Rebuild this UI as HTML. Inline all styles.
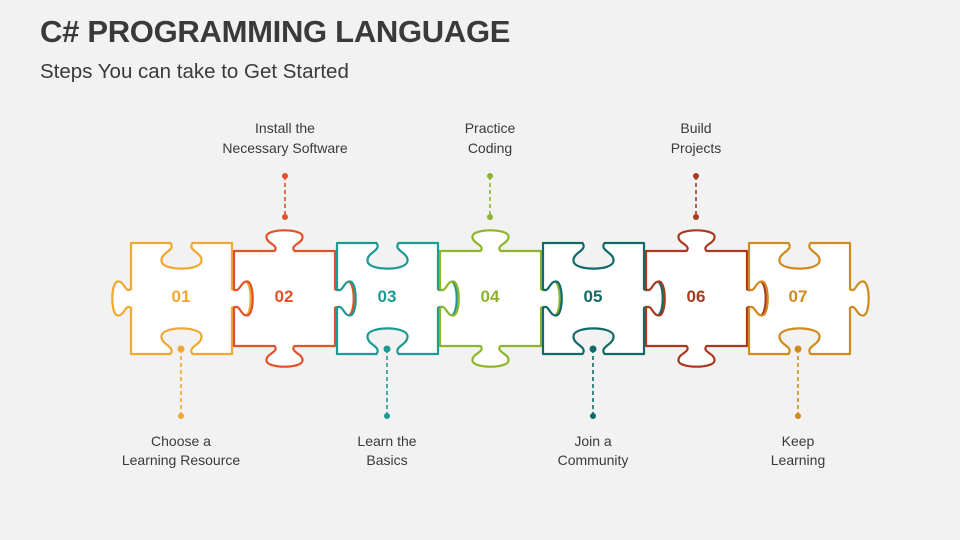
<!DOCTYPE html>
<html><head><meta charset="utf-8"><style>
body{margin:0;width:960px;height:540px;background:#f2f2f2;overflow:hidden;font-family:"Liberation Sans",sans-serif;position:relative}
.t{position:absolute;left:40px;top:14px;font-size:31px;font-weight:bold;color:#3a3a3a;letter-spacing:-0.3px}
.s{position:absolute;left:40px;top:60px;font-size:20.5px;color:#3a3a3a}
svg{position:absolute;left:0;top:0}
</style></head><body>
<div class="t">C# PROGRAMMING LANGUAGE</div>
<div class="s">Steps You can take to Get Started</div>
<svg width="960" height="540" id="sv">
<g id="pieces"></g>
<g font-family="Liberation Sans, sans-serif" font-size="14" fill="#3a3a3a" text-anchor="middle">
<text x="285" y="133">Install the</text><text x="285" y="153">Necessary Software</text>
<text x="490" y="133">Practice</text><text x="490" y="153">Coding</text>
<text x="696" y="133">Build</text><text x="696" y="153">Projects</text>
<text x="181" y="446">Choose a</text><text x="181" y="465">Learning Resource</text>
<text x="387" y="446">Learn the</text><text x="387" y="465">Basics</text>
<text x="593" y="446">Join a</text><text x="593" y="465">Community</text>
<text x="798" y="446">Keep</text><text x="798" y="465">Learning</text>
</g>
<g id="conn"></g>
<g font-family="Liberation Sans, sans-serif" font-size="17" font-weight="bold" text-anchor="middle">
<text x="181" y="302" fill="#F0A830">01</text>
<text x="284" y="302" fill="#E0522A">02</text>
<text x="387" y="302" fill="#1E9A94">03</text>
<text x="490" y="302" fill="#8DB52A">04</text>
<text x="593" y="302" fill="#106B68">05</text>
<text x="696" y="302" fill="#A8391F">06</text>
<text x="798" y="302" fill="#D08A1E">07</text>
</g>
</svg>
<script>
function edge(P,t,n,L,k,h,w){
  var s="";function pt(u,v){return (P[0]+t[0]*u+n[0]*v*k).toFixed(1)+","+(P[1]+t[1]*u+n[1]*v*k).toFixed(1);}
  if(!k){return " L"+pt(L,0);}
  var c=L/2,nk=w*0.55;
  s+=" L"+pt(c-nk,0);
  s+=" C"+pt(c-nk*0.5,h*0.3)+" "+pt(c-w*1.05,h*0.35)+" "+pt(c-w,h*0.7);
  s+=" C"+pt(c-w*0.95,h*1.08)+" "+pt(c+w*0.95,h*1.08)+" "+pt(c+w,h*0.7);
  s+=" C"+pt(c+w*1.05,h*0.35)+" "+pt(c+nk*0.5,h*0.3)+" "+pt(c+nk,0);
  s+=" L"+pt(L,0);
  return s;
}
function piece(x0,y0,x1,y1,T,R,B,Lf,hv,hh,wv,wh){
  var d="M"+x0+","+y0;
  d+=edge([x0,y0],[1,0],[0,-1],x1-x0,T,hv,wv);
  d+=edge([x1,y0],[0,1],[1,0],y1-y0,R,hh,wh);
  d+=edge([x1,y1],[-1,0],[0,1],x1-x0,B,hv,wv);
  d+=edge([x0,y1],[0,-1],[-1,0],y1-y0,Lf,hh,wh);
  return d+"Z";
}
var cols=["#F0A830","#E0522A","#1E9A94","#8DB52A","#106B68","#A8391F","#D08A1E"];
var g=document.getElementById("pieces"),html="";
for(var i=0;i<7;i++){
  var x0=131+103*i,x1=x0+101,odd=(i%2==0);
  var d=odd?piece(x0,243,x1,354,-1,1,-1,i==0?1:-1,26,19,20,17):piece(x0,251,x1,346,1,1,1,-1,21,19,18,17);
  html+='<path d="'+d+'" fill="#fff" stroke="'+cols[i]+'" stroke-width="2.2" stroke-linejoin="round"/>';
}
g.innerHTML=html;
var c=document.getElementById("conn"),h2="";
[[285,1],[490,3],[696,5]].forEach(function(a){var col=cols[a[1]];
 h2+='<line x1="'+a[0]+'" y1="176" x2="'+a[0]+'" y2="217" stroke="'+col+'" stroke-width="1.6" stroke-dasharray="4,3"/><circle cx="'+a[0]+'" cy="176" r="3" fill="'+col+'"/><circle cx="'+a[0]+'" cy="217" r="3" fill="'+col+'"/>';});
[[181,0],[387,2],[593,4],[798,6]].forEach(function(a){var col=cols[a[1]];
 h2+='<line x1="'+a[0]+'" y1="349" x2="'+a[0]+'" y2="416" stroke="'+col+'" stroke-width="1.6" stroke-dasharray="4,3"/><circle cx="'+a[0]+'" cy="349" r="3.5" fill="'+col+'"/><circle cx="'+a[0]+'" cy="416" r="3" fill="'+col+'"/>';});
c.innerHTML=h2;
</script>
</body></html>
